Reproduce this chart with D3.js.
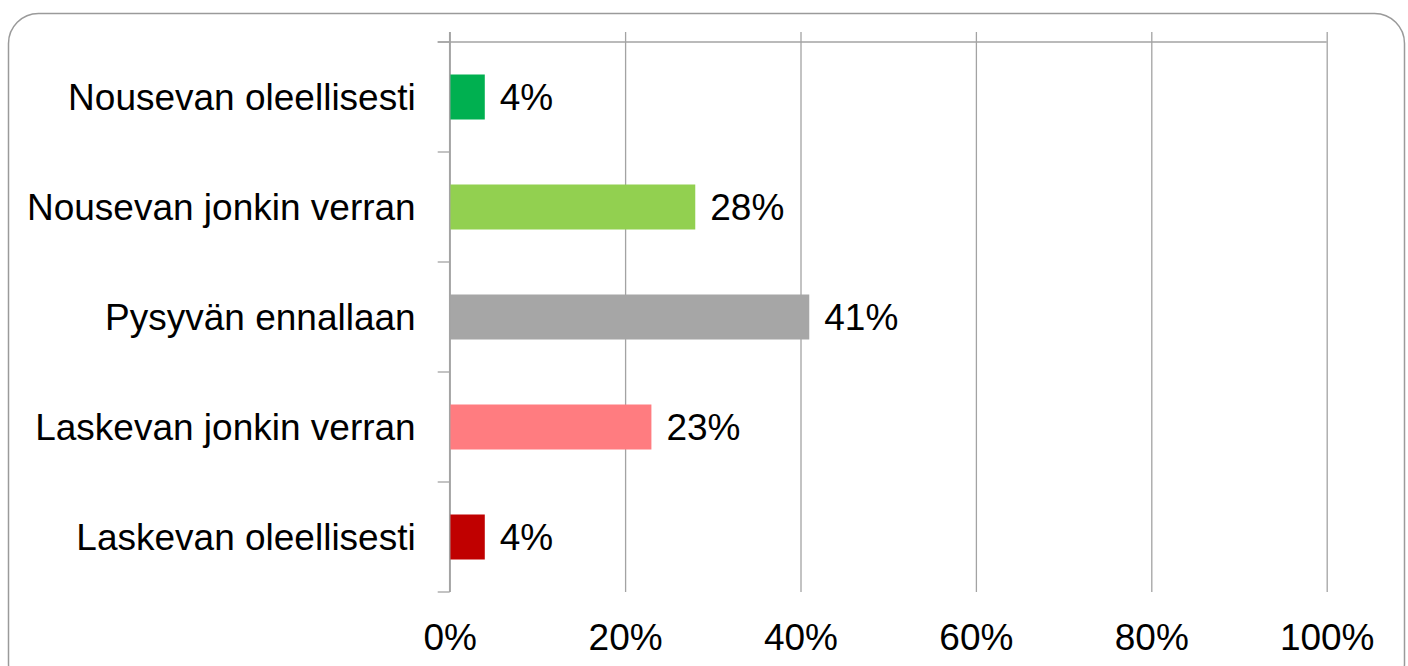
<!DOCTYPE html>
<html>
<head>
<meta charset="utf-8">
<script src="https://cdn.jsdelivr.net/npm/d3@7"></script>
<style>
  html, body { margin: 0; padding: 0; background: #fff; }
  svg { display: block; font-family: "Liberation Sans", Arial, sans-serif; }
</style>
</head>
<body>
<div id="chart"></div>
<script>
// Chart data
const categories = ['Nousevan oleellisesti', 'Nousevan jonkin verran', 'Pysyvän ennallaan', 'Laskevan jonkin verran', 'Laskevan oleellisesti'];
const values = [4, 28, 41, 23, 4];
const colors = ['#00B050', '#92D050', '#A6A6A6', '#FF7C80', '#C00000'];
const xTicks = [0, 20, 40, 60, 80, 100];

const W = 1408, H = 666;
const plot = { left: 449.7, right: 1326.7, top: 42, bottom: 592 };
const gridColor = '#a3a3a3';

const svg = d3.select('#chart')
  .append('svg')
  .attr('width', W)
  .attr('height', H);

// Outer rounded frame (bottom runs off the image)
svg.append('rect')
  .attr('x', 8.5)
  .attr('y', 13.5)
  .attr('width', 1396)
  .attr('height', 680)
  .attr('rx', 30)
  .attr('fill', '#fff')
  .attr('stroke', '#9a9a9a')
  .attr('stroke-width', 1.5);

// Scales
const x = d3.scaleLinear()
  .domain([0, 100])
  .range([plot.left, plot.right]);

const yBand = d3.scaleBand()
  .domain(categories)
  .range([plot.top, plot.bottom]);

const yBar = d3.scaleBand()
  .domain(categories)
  .range([plot.top, plot.bottom])
  .paddingInner(65 / 110)
  .paddingOuter(65 / 220);

// Vertical gridlines (extend a little above the top axis)
const grid = svg.append('g')
  .attr('transform', `translate(0,${plot.bottom})`)
  .call(d3.axisTop(x).tickValues(xTicks).tickSize(plot.bottom - plot.top + 10).tickFormat(''));
grid.select('.domain').remove();
grid.selectAll('.tick line')
  .attr('stroke', gridColor)
  .attr('stroke-width', 1.3);

// Top horizontal axis line
svg.append('line')
  .attr('x1', plot.left - 12)
  .attr('x2', plot.right)
  .attr('y1', plot.top)
  .attr('y2', plot.top)
  .attr('stroke', gridColor)
  .attr('stroke-width', 1.3);

// Category tick marks on the left
const boundaries = categories.map(c => yBand(c)).concat([plot.bottom]);
svg.append('g')
  .selectAll('line')
  .data(boundaries)
  .join('line')
  .attr('x1', plot.left - 12)
  .attr('x2', plot.left)
  .attr('y1', d => d)
  .attr('y2', d => d)
  .attr('stroke', gridColor)
  .attr('stroke-width', 1.3);

// X tick labels at the bottom
const xAxis = svg.append('g')
  .attr('transform', `translate(0,${plot.bottom})`)
  .call(d3.axisBottom(x).tickValues(xTicks).tickSize(0).tickPadding(32).tickFormat(d => d + '%'));
xAxis.select('.domain').remove();
xAxis.selectAll('text')
  .attr('font-size', 37)
  .attr('font-family', '"Liberation Sans", Arial, sans-serif')
  .attr('fill', '#000');

// Bars
svg.append('g')
  .selectAll('rect')
  .data(categories)
  .join('rect')
  .attr('x', x(0))
  .attr('y', d => yBar(d))
  .attr('width', (d, i) => x(values[i]) - x(0))
  .attr('height', yBar.bandwidth())
  .attr('fill', (d, i) => colors[i]);

// Category labels
svg.append('g')
  .selectAll('text')
  .data(categories)
  .join('text')
  .attr('x', plot.left - 34)
  .attr('y', d => yBand(d) + yBand.bandwidth() / 2)
  .attr('dy', '0.34em')
  .attr('text-anchor', 'end')
  .attr('font-size', 37)
  .attr('fill', '#000')
  .text(d => d);

// Value labels
svg.append('g')
  .selectAll('text')
  .data(categories)
  .join('text')
  .attr('x', (d, i) => x(values[i]) + 15)
  .attr('y', d => yBand(d) + yBand.bandwidth() / 2)
  .attr('dy', '0.34em')
  .attr('font-size', 37)
  .attr('fill', '#000')
  .text((d, i) => values[i] + '%');

// Left axis line at 0%
svg.append('line')
  .attr('x1', plot.left)
  .attr('x2', plot.left)
  .attr('y1', plot.top - 10)
  .attr('y2', plot.bottom)
  .attr('stroke', gridColor)
  .attr('stroke-width', 1.5);
</script>
</body>
</html>
